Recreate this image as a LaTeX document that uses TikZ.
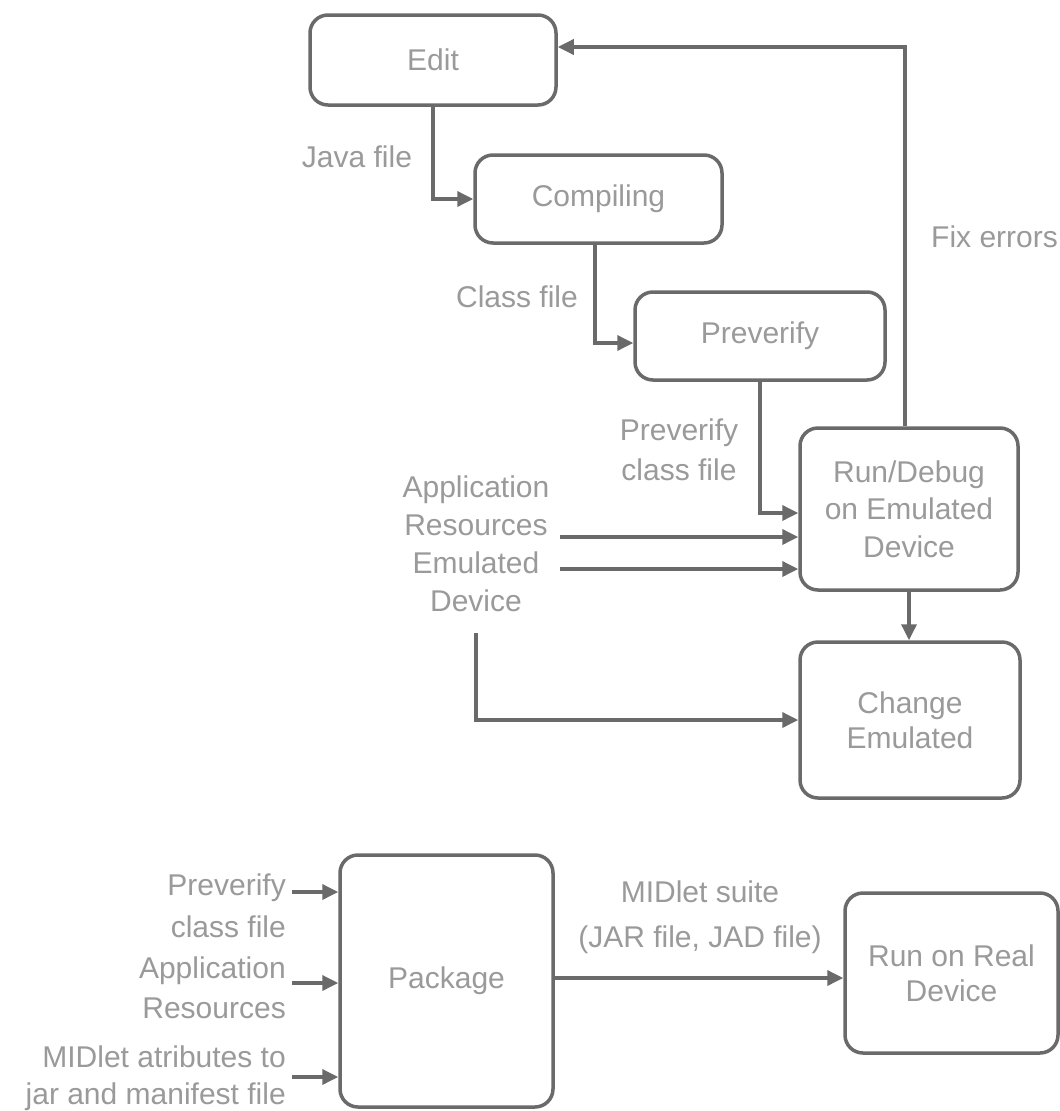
\documentclass[tikz,border=0pt]{standalone}
\usepackage{fontspec}
\setmainfont{Liberation Sans}
\usetikzlibrary{arrows.meta}
\definecolor{ink}{HTML}{6A6A6A}
\definecolor{txt}{HTML}{9A9A9A}
\begin{document}
\begin{tikzpicture}[x=1pt,y=-1pt,
  every node/.style={font=\fontsize{30}{38}\selectfont, text=txt, inner sep=0pt},
  stage/.style={draw=ink, line width=3.5pt, rounded corners=18pt, fill=white, align=center},
  flow/.style={draw=ink, line width=3.5pt, -{Triangle[length=16pt,width=15pt]}},
  plain/.style={draw=ink, line width=3.5pt}]
\useasboundingbox[fill=white] (0,0) rectangle (1060,1111);

% development cycle
\node[stage, minimum width=246pt, minimum height=90pt] (edit) at (433,60) {Edit};
\node[stage, minimum width=247pt, minimum height=88pt] (comp) at (598.5,199) {Compiling};
\node[stage, minimum width=250pt, minimum height=88pt] (prev) at (760,336) {Preverify};
\node[stage, minimum width=218pt, minimum height=162pt, font=\fontsize{30}{37.5}\selectfont] (run) at (909,509) {Run/Debug\\on Emulated\\Device};
\node[stage, minimum width=220pt, minimum height=156pt, font=\fontsize{30}{35}\selectfont] (chg) at (910,720) {Change\\Emulated};

% packaging
\node[stage, minimum width=213pt, minimum height=252pt] (pkg) at (446.5,981) {Package};
\node[stage, minimum width=213pt, minimum height=160pt, font=\fontsize{30}{35}\selectfont] (real) at (951.5,973) {Run on Real\\Device};

% labels
\node (javalbl) at (357,157) {Java file};
\node (classlbl) at (517,297) {Class file};
\node[align=center, font=\fontsize{30}{40}\selectfont] (pvlbl) at (679,450) {Preverify\\class file};
\node[anchor=west] (fixlbl) at (931,237) {Fix errors};
\node[align=center] (applbl) at (476,543.5) {Application\\Resources\\Emulated\\Device};
\node[align=right, anchor=east, font=\fontsize{30}{42}\selectfont] (in1lbl) at (286,906) {Preverify\\class file};
\node[align=right, anchor=east, font=\fontsize{30}{40}\selectfont] (in2lbl) at (286,988) {Application\\Resources};
\node[align=right, anchor=east, font=\fontsize{30}{37}\selectfont] (in3lbl) at (286,1078.5) {MIDlet atributes to\\jar and manifest file};
\node[align=center, font=\fontsize{30}{45}\selectfont] (suitelbl) at (700,917.5) {MIDlet suite\\(JAR file, JAD file)};

% free ends of the feed lines
\coordinate (f1) at (560,537);
\coordinate (f2) at (560,569);
\coordinate (d0) at (476,633);
\coordinate (i1) at (292,892);
\coordinate (i2) at (292,983);
\coordinate (i3) at (292,1077);

% connectors
\draw[flow] (edit.south) |- (comp.west);
\draw[flow] ([xshift=-3.5pt]comp.south) |- ([yshift=-7pt]prev.west);
\draw[flow] (prev.south) |- ([yshift=-4pt]run.west);
\draw[flow] ([xshift=-4pt]run.north) |- ([yshift=13pt]edit.east);
\draw[flow] (f1) -- (f1 -| run.west);
\draw[flow] (f2) -- (f2 -| run.west);
\draw[flow] (run.south) -- (run.south |- chg.north);
\draw[flow] (d0) |- (chg.west);
\draw[flow] (i1) -- (i1 -| pkg.west);
\draw[flow] (i2) -- (i2 -| pkg.west);
\draw[flow] (i3) -- (i3 -| pkg.west);
\draw[flow] ([yshift=3pt]pkg.east) -- ([yshift=3pt]pkg.east -| real.west);
\end{tikzpicture}
\end{document}
